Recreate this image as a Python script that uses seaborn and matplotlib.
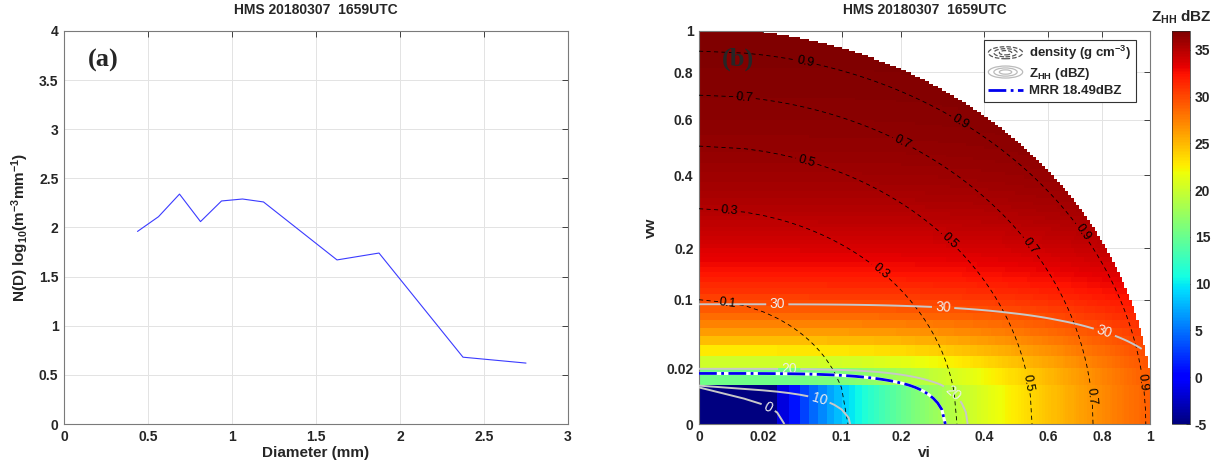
import numpy as np
import matplotlib
matplotlib.use('Agg')
import matplotlib.pyplot as plt
from matplotlib.lines import Line2D
from matplotlib.patches import Ellipse
import seaborn as sns

# panel (a): HMS size distribution
diameter = [0.4375, 0.5625, 0.6875, 0.8125, 0.9375, 1.0625, 1.1875, 1.625, 1.875, 2.375, 2.75]
log_nd = [1.96, 2.11, 2.34, 2.06, 2.27, 2.29, 2.26, 1.67, 1.74, 0.68, 0.62]

# panel (b): mixing grid and reflectivity parameters
vi = np.round(np.arange(0, 1.0001, 0.01), 2)
vw = np.round(np.arange(0, 1.0001, 0.01), 2)
rho_ice = 0.917
rho_water = 1.0
zw_max = 37.4      # dBZ, water saturation level
zw_exp = 1.6
zw_knee = 0.1
zi_ref = 29.0      # dBZ for solid ice
mrr_dbz = 18.49
density_levels = [0.1, 0.3, 0.5, 0.7, 0.9]
z_levels = [0, 10, 20, 30]
frac_ticks = [0, 0.02, 0.1, 0.2, 0.4, 0.6, 0.8, 1]
frac_labels = ['0', '0.02', '0.1', '0.2', '0.4', '0.6', '0.8', '1']
cbar_ticks = [-5, 0, 5, 10, 15, 20, 25, 30, 35]
title = 'HMS 20180307  1659UTC'


class ContourIcon:
    """Legend icon with concentric ellipses like the MATLAB contour legend."""
    def __init__(self, color, ls):
        self.color = color
        self.ls = ls

    def legend_artist(self, legend, orig_handle, fontsize, handlebox):
        x0, y0 = handlebox.xdescent, handlebox.ydescent
        w, h = handlebox.width, handlebox.height
        art = None
        for s in [1.0, 0.68, 0.36]:
            art = Ellipse((w / 2 - x0, h / 2 - y0), w * s, h * 1.3 * s, fill=False,
                          ec=self.color, ls=self.ls, lw=0.9,
                          transform=handlebox.get_transform())
            handlebox.add_artist(art)
        return art


def main():
    sns.set_theme(style='white')
    plt.rcParams['font.family'] = ['Liberation Sans', 'DejaVu Sans']
    plt.rcParams['font.weight'] = 'bold'
    plt.rcParams['axes.labelweight'] = 'bold'
    plt.rcParams['axes.titleweight'] = 'bold'
    plt.rcParams['axes.unicode_minus'] = False
    plt.rcParams['mathtext.fontset'] = 'custom'
    plt.rcParams['mathtext.rm'] = 'Liberation Sans:bold'
    plt.rcParams['mathtext.bf'] = 'Liberation Sans:bold'
    plt.rcParams['mathtext.it'] = 'Liberation Sans:bold'
    plt.rcParams['mathtext.default'] = 'bf'

    W, H = 1211, 466
    fig = plt.figure(figsize=(W / 100, H / 100), dpi=100)
    ax1 = fig.add_axes([64 / W, 42 / H, 504 / W, 393 / H])
    ax2 = fig.add_axes([699 / W, 42 / H, 451 / W, 393 / H])
    cax = fig.add_axes([1172 / W, 42 / H, 18 / W, 393 / H])

    for ax in (ax1, ax2):
        ax.tick_params(direction='in', length=4, width=0.6, top=True, right=True,
                       labelsize=10, colors='#262626', pad=4)
        for sp in ax.spines.values():
            sp.set_color('#7a7a7a')
            sp.set_linewidth(0.8)
        ax.grid(True, color='#e3e3e3', lw=0.7)
        ax.set_axisbelow(True)

    # ---- (a)
    sns.lineplot(x=diameter, y=log_nd, ax=ax1, color='#3b3bff', linewidth=0.8)
    ax1.set_xlim(0, 3)
    ax1.set_ylim(0, 4)
    ax1.set_xticks(np.arange(0, 3.01, 0.5), labels=['0', '0.5', '1', '1.5', '2', '2.5', '3'])
    ax1.set_yticks(np.arange(0, 4.01, 0.5), labels=['0', '0.5', '1', '1.5', '2', '2.5', '3', '3.5', '4'])
    ax1.set_xlabel('Diameter (mm)', fontsize=11, labelpad=2)
    ax1.set_ylabel('N(D) log$_{10}$(m$^{-3}$mm$^{-1}$)', fontsize=11, labelpad=6)
    ax1.set_title(title, fontsize=10, pad=12)
    ax1.text(0.077, 0.924, '(a)', transform=ax1.transAxes, ha='center', va='center',
             fontsize=19, fontweight='bold', family='Liberation Serif')

    # ---- (b)
    sqrt_scale = (lambda v: np.sqrt(np.clip(v, 0, None)), np.square)
    ax2.set_xscale('function', functions=sqrt_scale)
    ax2.set_yscale('function', functions=sqrt_scale)

    VI, VW = np.meshgrid(vi, vw)
    inside = VI + VW <= 1 + 1e-9
    zw_lin = 10 ** (zw_max / 10) * VW ** zw_exp / (VW ** zw_exp + zw_knee)
    zi_lin = 10 ** (zi_ref / 10) * VI ** 2
    z_db = 10 * np.log10(zw_lin + zi_lin + 1e-10)
    z_m = np.ma.masked_where(~inside, z_db)
    dens = np.ma.masked_where(~inside, rho_ice * VI + rho_water * VW)

    mesh = ax2.pcolormesh(vi, vw, z_m[:-1, :-1], cmap='jet', vmin=-5, vmax=37,
                          shading='flat', zorder=1)

    cs_d = ax2.contour(VI, VW, dens, levels=density_levels, colors='black',
                       linewidths=0.6, linestyles=[(0, (5, 4))], zorder=3)
    lab_d = ax2.clabel(cs_d, fmt='%.1f', fontsize=9, inline=True, inline_spacing=3,
                       manual=[(0.056, 0.848), (0.335, 0.587), (0.719, 0.235), (0.968, 0.011),
                               (0.010, 0.69), (0.204, 0.512), (0.54, 0.204), (0.75, 0.005),
                               (0.057, 0.447), (0.308, 0.215), (0.531, 0.011),
                               (0.0045, 0.294), (0.162, 0.151), (0.004, 0.093)])

    cs_z = ax2.contour(VI, VW, z_m, levels=z_levels, colors='#c8c8c8',
                       linewidths=1.4, zorder=4)
    lab_z = ax2.clabel(cs_z, fmt='%d', fontsize=10, inline=True, inline_spacing=4,
                       colors='#eeeeee',
                       manual=[(0.03, 0.092), (0.293, 0.089), (0.823, 0.069),
                               (0.04, 0.0205), (0.306, 0.0043), (0.068, 0.002), (0.021, 0.0006)])
    for t in list(lab_d) + list(lab_z):
        t.set_fontweight('normal')

    ax2.contour(VI, VW, z_m, levels=[mrr_dbz], colors='white', linewidths=2.2, zorder=5)
    ax2.contour(VI, VW, z_m, levels=[mrr_dbz], colors='#0000ee', linewidths=2.0,
                linestyles='-.', zorder=6)

    ax2.set_xlim(0, 1)
    ax2.set_ylim(0, 1)
    ax2.set_xticks(frac_ticks, labels=frac_labels)
    ax2.set_yticks(frac_ticks, labels=frac_labels)
    ax2.minorticks_off()
    ax2.set_xlabel('vi', fontsize=11, labelpad=2)
    ax2.set_ylabel('vw', fontsize=11, labelpad=6)
    ax2.set_title(title, fontsize=10, pad=12)
    ax2.text(0.086, 0.929, '(b)', transform=ax2.transAxes, ha='center', va='center',
             fontsize=19, fontweight='bold', family='Liberation Serif', zorder=7)

    h_d = Line2D([], [], color='black', ls='--')
    h_z = Line2D([], [], color='#c8c8c8')
    h_m = Line2D([], [], color='#0000ee', ls='-.', lw=2)
    leg = ax2.legend([h_d, h_z, h_m],
                     ['density (g cm$^{-3}$)', 'Z$_{HH}$ (dBZ)', 'MRR 18.49dBZ'],
                     handler_map={h_d: ContourIcon('#555555', '--'),
                                  h_z: ContourIcon('#bbbbbb', '-')},
                     loc='upper right', bbox_to_anchor=(0.975, 0.985), fontsize=9.5,
                     handlelength=2.6, handletextpad=0.5, borderpad=0.35, labelspacing=0.25,
                     borderaxespad=0.2, fancybox=False, framealpha=1, edgecolor='#333333')
    leg.get_frame().set_linewidth(0.8)
    leg.set_zorder(8)

    cb = fig.colorbar(mesh, cax=cax, ticks=cbar_ticks)
    cb.outline.set_linewidth(0.5)
    cax.tick_params(direction='in', length=3, width=0.5, labelsize=10, colors='#262626')
    cax.set_title('Z$_{HH}$ dBZ', fontsize=11, pad=7)

    fig.savefig('out.png', dpi=100)


if __name__ == '__main__':
    main()
